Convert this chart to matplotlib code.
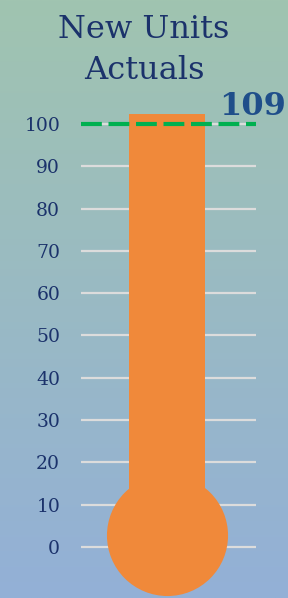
import numpy as np
import matplotlib.pyplot as plt
from matplotlib.colors import LinearSegmentedColormap

# data
actual = 109
target = 100
ticks = list(range(0, 101, 10))
title = 'New Units\nActuals'

navy = '#1b326b'
orange = '#f0893a'

fig = plt.figure(figsize=(2.88, 5.98), dpi=100)

# gradient background
bg = fig.add_axes([0, 0, 1, 1])
grad = np.linspace(0, 1, 256).reshape(-1, 1)
cmap = LinearSegmentedColormap.from_list('bg', ['#a0c4b0', '#93b0d7'])
bg.imshow(grad, aspect='auto', cmap=cmap, extent=[0, 1, 0, 1], origin='upper')
bg.set_axis_off()

ax = fig.add_axes([81 / 288, 0, 175 / 288, 484 / 598])
ax.set_facecolor('none')
ax.set_xlim(0, 1)
ax.set_ylim(-12.06, 102.36)

for t in ticks:
    ax.axhline(t, color='#dcdcdc', lw=1.6, zorder=1)

ax.bar(0.491, actual, width=0.434, color=orange, zorder=2)
ax.scatter([0.491], [2.8], s=7600, color=orange, zorder=2, linewidths=0)

ax.plot([0, 1], [target, target], color='#00b050', lw=3,
        dashes=(5, 1.6), zorder=3, solid_capstyle='butt', dash_capstyle='butt')

ax.set_yticks(ticks)
ax.set_yticklabels([str(t) for t in ticks], fontfamily='DejaVu Serif',
                   fontsize=13.5, color=navy)
ax.tick_params(axis='y', length=0, pad=15)
ax.set_xticks([])
for s in ax.spines.values():
    s.set_visible(False)

fig.text(0.5, 1 - 79 / 598, title, ha='center', va='baseline',
         fontfamily='DejaVu Serif', fontsize=23, color=navy, linespacing=1.42)
fig.text(286 / 288, 1 - 115 / 598, str(actual), ha='right', va='baseline',
         fontfamily='DejaVu Serif', fontweight='bold', fontsize=23,
         color='#1f4e8a')

fig.savefig('out.png', dpi=100)
